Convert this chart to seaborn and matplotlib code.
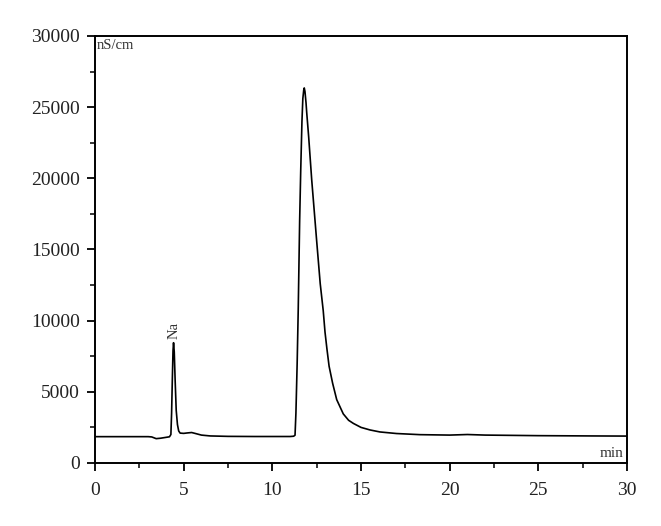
import seaborn as sns
import matplotlib.pyplot as plt
from matplotlib.ticker import MultipleLocator
import pandas as pd

# chromatogram (min, nS/cm)
time = [0, 3.0, 3.2, 3.45, 3.7, 4.0, 4.2, 4.28, 4.32, 4.36, 4.40, 4.43, 4.47, 4.52,
        4.58, 4.65, 4.72, 4.80, 5.0, 5.2, 5.45, 5.7, 6.0, 6.5, 7.5, 9.0, 11.0, 11.2,
        11.28, 11.33, 11.4, 11.46, 11.54, 11.6, 11.67, 11.72, 11.77, 11.80, 11.84, 11.9,
        11.94, 12.05, 12.22, 12.5, 12.7, 12.87, 12.97, 13.08, 13.2, 13.4, 13.63, 14.0,
        14.3, 14.57, 15.0, 15.51, 16.07, 17.0, 18.33, 20.0, 21.0, 22.0, 25.0, 28.0, 30.0]
signal = [1850, 1850, 1830, 1710, 1740, 1800, 1840, 2000, 3500, 5800, 7900, 8450, 7800, 5800,
          3700, 2700, 2250, 2100, 2080, 2110, 2140, 2060, 1960, 1900, 1870, 1860, 1860, 1880,
          1950, 3500, 7000, 10750, 17000, 20500, 24000, 25600, 26200, 26350, 26100, 25300,
          24600, 22900, 19900, 15600, 12600, 10700, 9200, 8000, 6800, 5600, 4450, 3450,
          3000, 2780, 2500, 2320, 2180, 2070, 1990, 1960, 2000, 1960, 1920, 1900, 1890]

df = pd.DataFrame({"time": time, "signal": signal})

sns.set_style("ticks")
plt.rcParams['font.family'] = ['Liberation Serif', 'DejaVu Serif']

fig = plt.figure(figsize=(6.61, 5.26), dpi=100)
ax = fig.add_axes([0.1437, 0.1198, 0.8049, 0.8118])

sns.lineplot(data=df, x="time", y="signal", ax=ax, color="black", linewidth=1.2)

ax.set_xlim(0, 30)
ax.set_ylim(0, 30000)
ax.xaxis.set_major_locator(MultipleLocator(5))
ax.xaxis.set_minor_locator(MultipleLocator(2.5))
ax.yaxis.set_major_locator(MultipleLocator(5000))
ax.yaxis.set_minor_locator(MultipleLocator(2500))
ax.tick_params(which="major", direction="out", length=6, width=1.3, labelsize=14,
               pad=5, colors="black", labelcolor="#222222")
ax.tick_params(axis="x", which="major", pad=8)
ax.tick_params(which="minor", direction="out", length=3.5, width=1.3)
for s in ax.spines.values():
    s.set_linewidth(1.4)
    s.set_color("black")
ax.set_xlabel("")
ax.set_ylabel("")

ax.text(0.004, 0.992, "nS/cm", transform=ax.transAxes, ha="left", va="top",
        fontsize=10.5, color="#333333")
ax.text(0.993, 0.008, "min", transform=ax.transAxes, ha="right", va="bottom",
        fontsize=11, color="#333333")
ax.text(4.45, 8700, "Na", rotation=90, ha="center", va="bottom", fontsize=10.5,
        color="#333333")

fig.savefig("out.png", dpi=100)
